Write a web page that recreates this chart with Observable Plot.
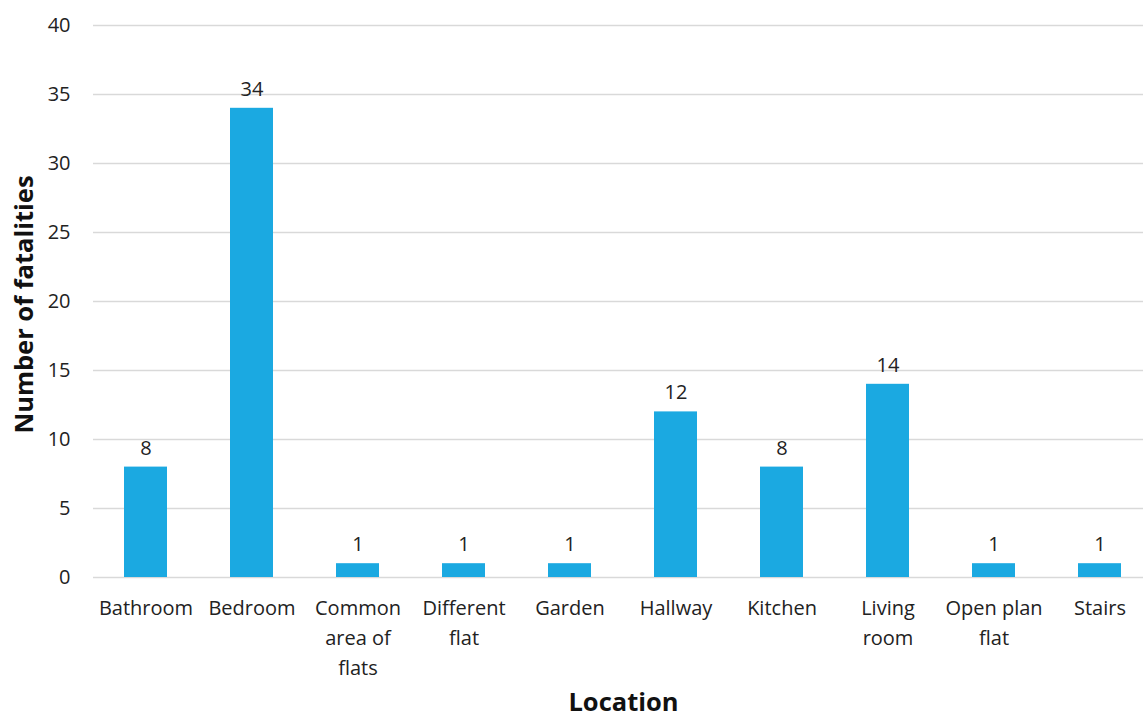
<!DOCTYPE html>
<html><head><meta charset="utf-8">
<script src="https://cdn.jsdelivr.net/npm/d3@7"></script>
<script src="https://cdn.jsdelivr.net/npm/@observablehq/plot@0.6"></script>
<style>
html,body{margin:0;padding:0;background:#fff;overflow:hidden;}
</style>
</head><body><div id="chart"></div>
<script>
const categories = ["Bathroom","Bedroom","Common area of flats","Different flat","Garden","Hallway","Kitchen","Living room","Open plan flat","Stairs"];
const values = [8,34,1,1,1,12,8,14,1,1];
const tickLabels = ["Bathroom","Bedroom","Common\narea of\nflats","Different\nflat","Garden","Hallway","Kitchen","Living\nroom","Open plan\nflat","Stairs"];
const yTicks = [0,5,10,15,20,25,30,35,40];

const data = categories.map((c,i)=>({cat:c, value:values[i]}));
const labelOf = new Map(categories.map((c,i)=>[c,tickLabels[i]]));
const font = "'Open Sans', Lato, sans-serif";

const chart = Plot.plot({
  width: 1143, height: 718,
  marginLeft: 93, marginRight: -10, marginTop: 25, marginBottom: 141,
  style: {fontFamily: font, fontSize: "20px", color: "#222", background: "#fff"},
  x: {domain: categories, paddingInner: 0.594, paddingOuter: 0.297, align: 0.5, label: null},
  y: {domain: [0,40], ticks: yTicks, label: null},
  marks: [
    Plot.gridY(yTicks, {stroke: "#d9d9d9", strokeOpacity: 1, strokeWidth: 1.5}),
    Plot.barY(data, {x: "cat", y: "value", fill: "#1BA9E1"}),
    Plot.text(data, {x: "cat", y: "value", text: d => String(d.value), dy: -19, fontSize: 20, fill: "#222"}),
    Plot.axisY(yTicks, {tickSize: 0, tickPadding: 23, fontSize: 20, label: null}),
    Plot.axisX({tickSize: 0, tickPadding: 16, fontSize: 20, lineHeight: 1.5, tickFormat: d => labelOf.get(d), label: null}),
    Plot.text(["Number of fatalities"], {frameAnchor: "left", textAnchor: "middle", lineAnchor: "middle", rotate: -90, dx: -69, dy: 3, fontSize: 25.5, fontWeight: "bold", fill: "#111"}),
    Plot.text(["Location"], {frameAnchor: "bottom", lineAnchor: "middle", dy: 125, fontSize: 25.5, fontWeight: "bold", fill: "#111"})
  ]
});
document.getElementById("chart").appendChild(chart);
</script></body></html>
